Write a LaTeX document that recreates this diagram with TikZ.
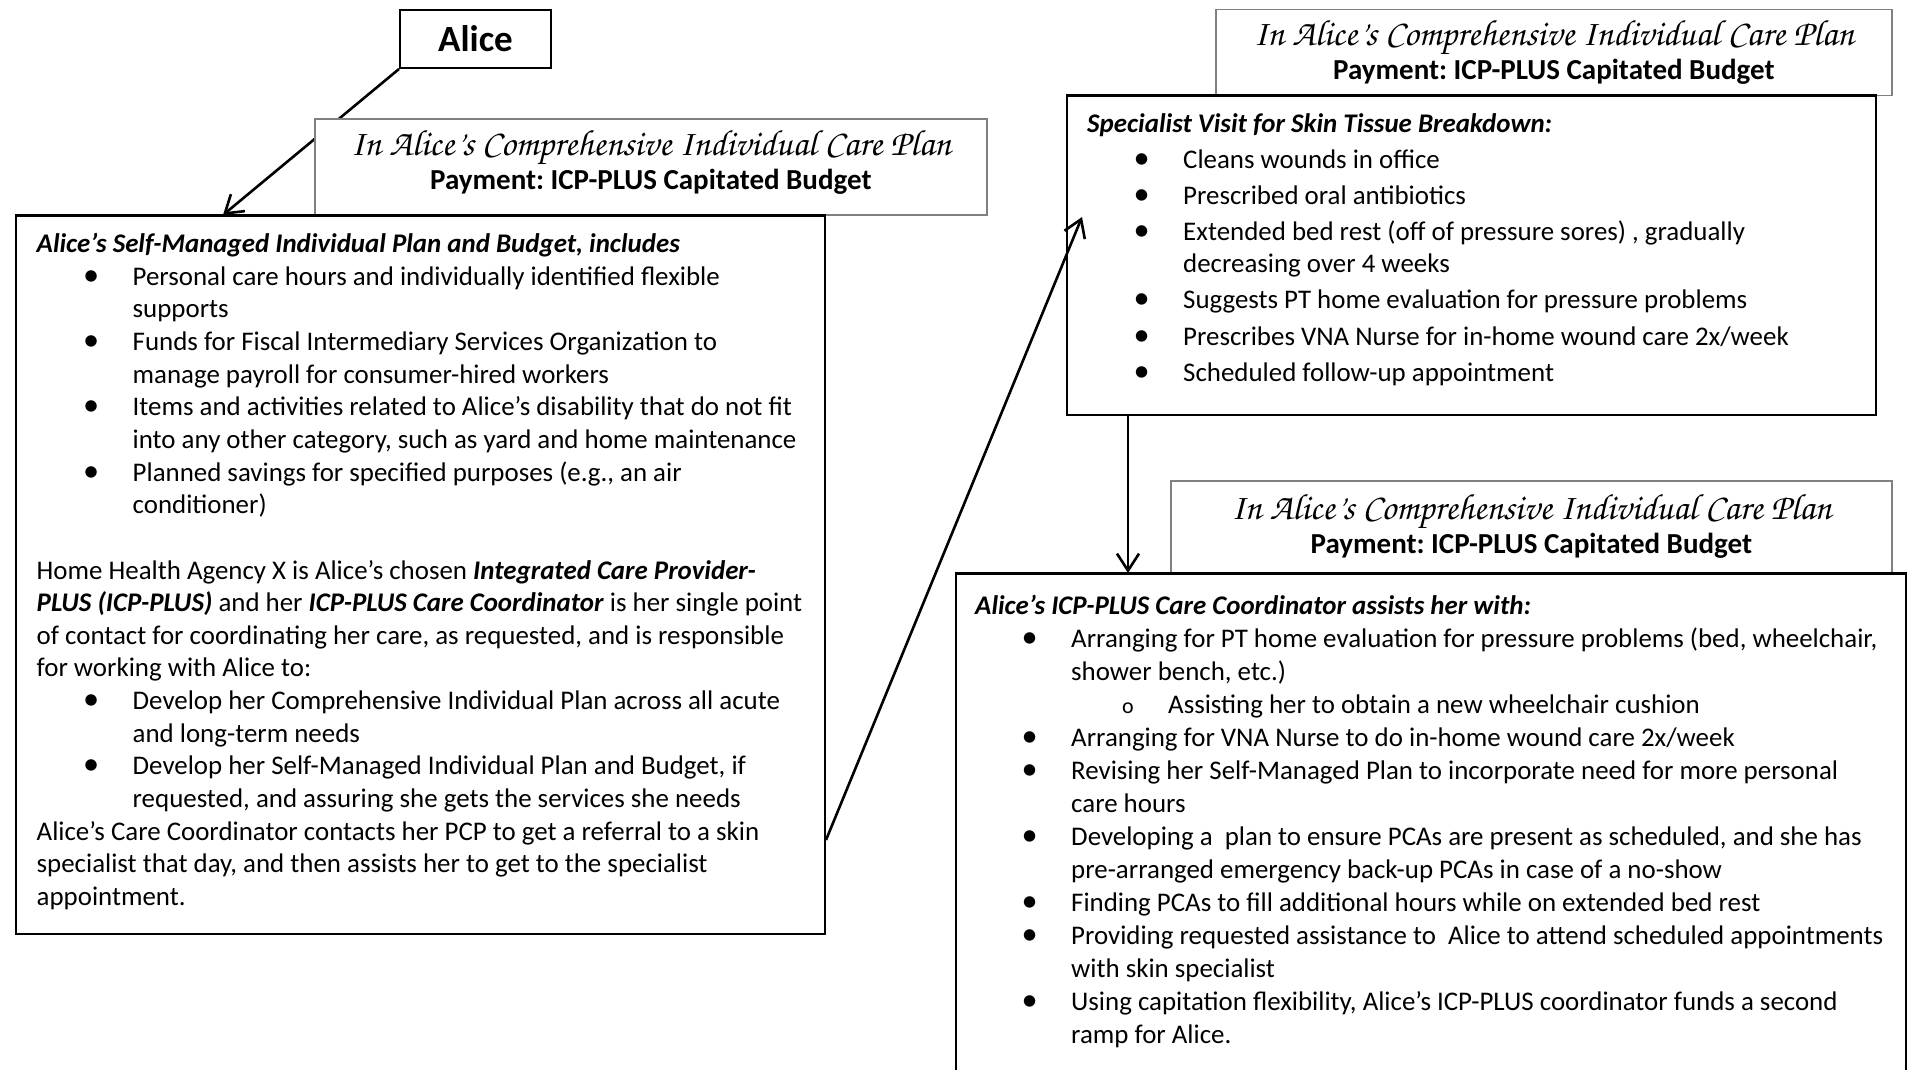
\documentclass[tikz,border=0pt]{standalone}
\usepackage{fontspec}
\setmainfont{Carlito}
\newfontfamily\chorus{texgyrechorus-mediumitalic.otf}
\usetikzlibrary{arrows.meta}
\frenchspacing

% one bullet line, text hangs under the first word
\newcommand{\bitem}[1]{\par\hangindent=96pt\hangafter=1\noindent\hspace*{46.5pt}\makebox[49.5pt][l]{\scalebox{1.2}{\textbullet}}#1\par}
\newcommand{\oitem}[1]{\par\hangindent=193pt\hangafter=1\noindent\hspace*{147pt}\makebox[46pt][l]{\fontsize{22}{20}\selectfont o}#1\par}
\newcommand{\bi}[1]{\textbf{\textit{#1}}}

\begin{document}
\begin{tikzpicture}[x=1pt, y=-1pt,
    planbox/.style={draw, line width=2pt, inner sep=0pt, anchor=north west},
    payhead/.style={draw=black!50, line width=1.6pt, fill=white, inner sep=0pt, anchor=north west, align=center, font=\fontsize{29}{34}\selectfont},
    plantext/.style={anchor=base west, inner sep=0pt},
    link/.style={-{Straight Barb[length=17pt,width=22pt]}, line width=2.6pt}]
  \path[use as bounding box] (0,0) rectangle (1909,1069);
  \clip (0,0) rectangle (1909,1069);

  \node[planbox, minimum width=809, minimum height=718] (selfplan) at (15,215) {};
  \node[planbox, minimum width=809, minimum height=319] (visit) at (1066,95) {};
  \node[planbox, minimum width=950, minimum height=560] (coord) at (955,573) {};
  \node[planbox, minimum width=151, minimum height=58.5, font=\fontsize{37}{40}\selectfont\bfseries] (alice) at (399,8.5) {Alice};

  \draw[link] (alice.south west) -- ([xshift=208pt]selfplan.north west);
  \draw[link] ([yshift=95pt]selfplan.south east) -- ([shift={(16,122)}]visit.north west);
  \draw[link] ([xshift=62pt]visit.south west) -- ([xshift=173pt]coord.north west);

  \node[payhead, minimum width=672, minimum height=96] (head1) at (314,118)
    {{\chorus\fontsize{36.5}{34}\selectfont In Alice’s Comprehensive Individual Care Plan}\\\textbf{Payment: ICP-PLUS Capitated Budget}\rule[-13pt]{0pt}{13pt}};
  \node[payhead, minimum width=676, minimum height=86] (head2) at (1215,8.5)
    {{\chorus\fontsize{36.5}{34}\selectfont In Alice’s Comprehensive Individual Care Plan}\\\textbf{Payment: ICP-PLUS Capitated Budget}};
  \node[payhead, minimum width=721, minimum height=92] (head3) at (1170,480)
    {{\chorus\fontsize{36.5}{34}\selectfont In Alice’s Comprehensive Individual Care Plan}\\\textbf{Payment: ICP-PLUS Capitated Budget}};
  % redraw box tops over the header bottoms
  \draw[line width=2pt] (selfplan.north west) -- (selfplan.north east);
  \draw[line width=2pt] (visit.north west) -- (visit.north east);
  \draw[line width=2pt] (coord.north west) -- (coord.north east);

  \node[plantext] (selfplantext) at (36.5,252.5) {\begin{minipage}[t]{790pt}\fontsize{26.9}{32.65}\selectfont\raggedright
    \bi{Alice’s Self-Managed Individual Plan and Budget, includes}
    \bitem{Personal care hours and individually identified flexible\newline supports}
    \bitem{Funds for Fiscal Intermediary Services Organization to\newline manage payroll for consumer-hired workers}
    \bitem{Items and activities related to Alice’s disability that do not fit\newline into any other category, such as yard and home maintenance}
    \bitem{Planned savings for specified purposes (e.g., an air\newline conditioner)}
    \vskip\baselineskip
    \noindent Home Health Agency X is Alice’s chosen \bi{Integrated Care Provider-}\\\bi{PLUS (ICP-PLUS)} and her \bi{ICP-PLUS Care Coordinator} is her single point\\of contact for coordinating her care, as requested, and is responsible\\for working with Alice to:
    \bitem{Develop her Comprehensive Individual Plan across all acute\newline and long-term needs}
    \bitem{Develop her Self-Managed Individual Plan and Budget, if\newline requested, and assuring she gets the services she needs}
    \noindent Alice’s Care Coordinator contacts her PCP to get a referral to a skin\\specialist that day, and then assists her to get to the specialist\\appointment.
  \end{minipage}};

  \node[plantext] (visittext) at (1087,132) {\begin{minipage}[t]{780pt}\fontsize{26.9}{32}\selectfont\raggedright\setlength{\parskip}{4.2pt}
    \bi{Specialist Visit for Skin Tissue Breakdown:}
    \bitem{Cleans wounds in office}
    \bitem{Prescribed oral antibiotics}
    \bitem{Extended bed rest (off of pressure sores) , gradually\newline decreasing over 4 weeks}
    \bitem{Suggests PT home evaluation for pressure problems}
    \bitem{Prescribes VNA Nurse for in-home wound care 2x/week}
    \bitem{Scheduled follow-up appointment}
  \end{minipage}};

  \node[plantext] (coordtext) at (975,614) {\begin{minipage}[t]{925pt}\fontsize{26.9}{33}\selectfont\raggedright
    \bi{Alice’s ICP-PLUS Care Coordinator assists her with:}
    \bitem{Arranging for PT home evaluation for pressure problems (bed, wheelchair,\newline shower bench, etc.)}
    \oitem{Assisting her to obtain a new wheelchair cushion}
    \bitem{Arranging for VNA Nurse to do in-home wound care 2x/week}
    \bitem{Revising her Self-Managed Plan to incorporate need for more personal\newline care hours}
    \bitem{Developing a\ \ plan to ensure PCAs are present as scheduled, and she has\newline pre-arranged emergency back-up PCAs in case of a no-show}
    \bitem{Finding PCAs to fill additional hours while on extended bed rest}
    \bitem{Providing requested assistance to\ \ Alice to attend scheduled appointments\newline with skin specialist}
    \bitem{Using capitation flexibility, Alice’s ICP-PLUS coordinator funds a second\newline ramp for Alice.}
  \end{minipage}};
\end{tikzpicture}
\end{document}
